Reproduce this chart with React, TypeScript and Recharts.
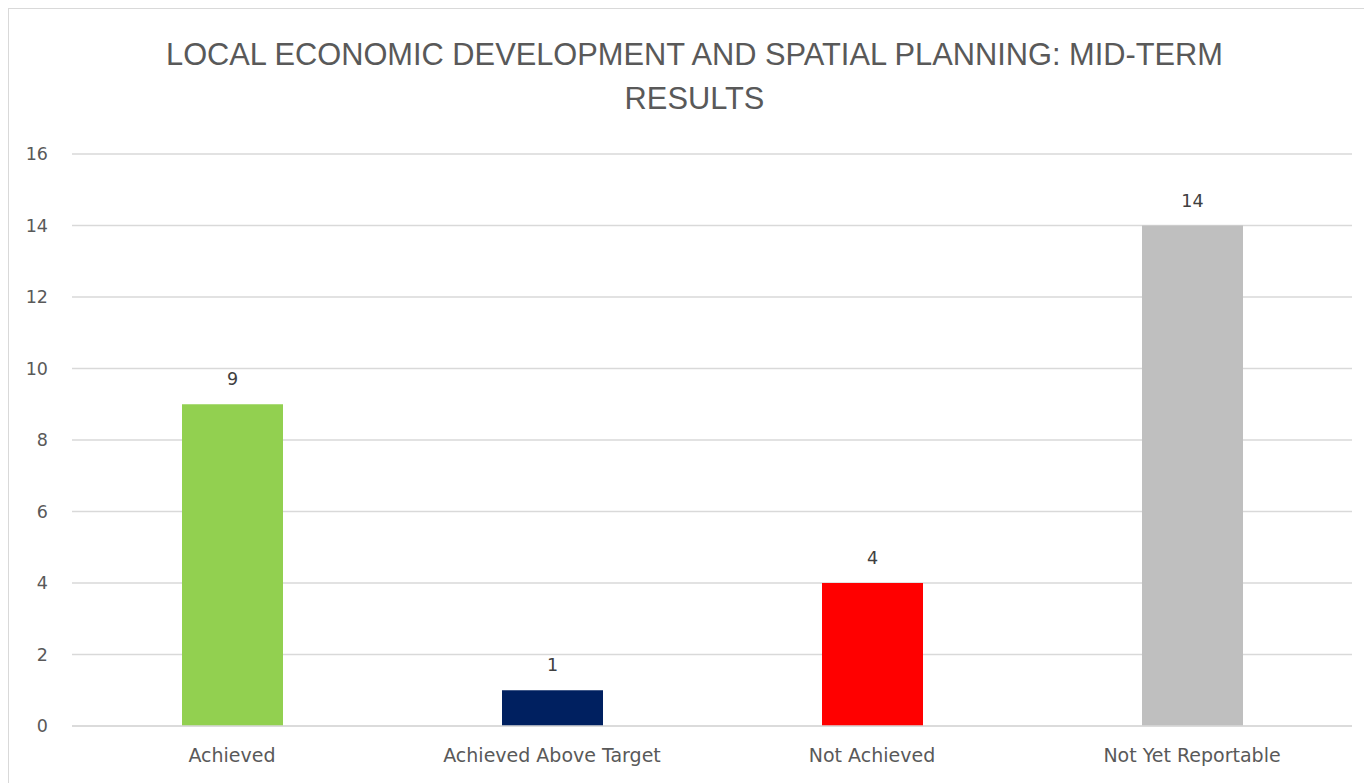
import { Bar, BarChart, CartesianGrid, Cell, LabelList, XAxis, YAxis } from "recharts";

const categories = ["Achieved", "Achieved Above Target", "Not Achieved", "Not Yet Reportable"];
const counts = [9, 1, 4, 14];
const barColors = ["#92d050", "#002060", "#ff0000", "#bfbfbf"];
const yTicks = [0, 2, 4, 6, 8, 10, 12, 14, 16];

const data = categories.map((name, i) => ({ name, value: counts[i] }));

const textColor = "#595959";
const titleFont = "'Liberation Sans', Arial, sans-serif";
const axisFont = "'DejaVu Sans', sans-serif";

export default function App() {
  return (
    <div
      style={{
        position: "relative",
        width: 1363,
        height: 774,
        borderTop: "1px solid #d9d9d9",
        borderLeft: "1px solid #d9d9d9",
        background: "#fff",
        fontFamily: titleFont,
      }}
    >
      <div
        style={{
          position: "absolute",
          top: 24,
          left: 0,
          width: 1371,
          textAlign: "center",
          color: textColor,
          fontSize: 30.8,
          lineHeight: "44px",
        }}
      >
        LOCAL ECONOMIC DEVELOPMENT AND SPATIAL PLANNING: MID-TERM
        <br />
        RESULTS
      </div>
      <BarChart
        width={1363}
        height={774}
        data={data}
        margin={{ top: 145, right: 20, bottom: 27, left: 0 }}
        style={{ position: "absolute", top: 0, left: 0 }}
      >
        <CartesianGrid vertical={false} stroke="#d9d9d9" strokeWidth={1.5} />
        <XAxis
          dataKey="name"
          height={30}
          tickLine={false}
          axisLine={{ stroke: "#d9d9d9", strokeWidth: 1.5 }}
          tickSize={0}
          tickMargin={23}
          tick={{ fill: textColor, fontSize: 19, fontFamily: axisFont }}
        />
        <YAxis
          width={63}
          domain={[0, 16]}
          ticks={yTicks}
          axisLine={false}
          tickLine={false}
          tickSize={0}
          tickMargin={24}
          tick={{ fill: textColor, fontSize: 17.5, fontFamily: axisFont }}
        />
        <Bar dataKey="value" barSize={101} isAnimationActive={false}>
          {data.map((d, i) => (
            <Cell key={d.name} fill={barColors[i]} />
          ))}
          <LabelList
            dataKey="value"
            position="top"
            offset={19}
            fill="#404040"
            fontSize={17.5}
            fontFamily={axisFont}
          />
        </Bar>
      </BarChart>
    </div>
  );
}
